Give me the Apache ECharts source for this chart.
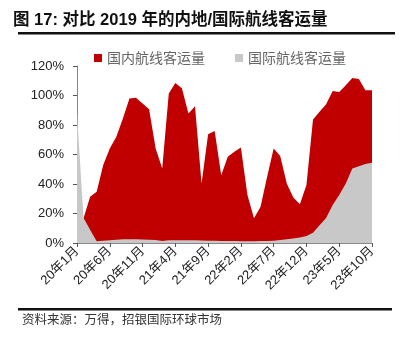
<!DOCTYPE html>
<html><head><meta charset="utf-8">
<script src="https://cdn.jsdelivr.net/npm/echarts@6/dist/echarts.min.js"></script>
<style>html,body{margin:0;padding:0;background:#fff}#c{width:409px;height:339px}</style>
</head><body><div id="c"></div>
<script>
const months = [];
for (let y = 20; y <= 23; y++) { for (let m = 1; m <= 12; m++) { if (y === 23 && m > 10) break; months.push(y + '年' + m + '月'); } }
const domestic = [null,16.7,31.3,34.7,52.8,64,72,84.4,98,98.4,94.6,90.7,
  64,50.5,101.3,108.5,105,87.8,92.7,40.4,73.8,76,46,58.4,
  61.8,64.7,32.5,16.7,24.6,44.9,64,58.9,40.4,30.9,26.2,39.3,
  83.7,88.9,94,103,102.4,106.9,111.9,111.2,103.6,103.6];
const international = [88,17,9,1.2,1.5,1.8,2.2,2.5,2.6,2.6,2.4,2.2,
  2,1.3,1.8,1.9,1.9,1.8,1.8,1.7,1.6,1.5,1.4,1.3,
  1.3,1.2,1.2,1.2,1.3,1.4,1.6,2,2.6,3.1,3.8,4.7,
  7,12,17,25.7,32.5,40.4,50.5,52.1,53.5,54.4];
const seriesNames = ['国内航线客运量','国际航线客运量'];
const titleText = '图 17: 对比 2019 年的内地/国际航线客运量';
const sourceText = '资料来源：万得，招银国际环球市场';

const chart = echarts.init(document.getElementById('c'));
chart.setOption({
  animation: false,
  title: { text: titleText, left: 8, top: 7, textStyle: { fontSize: 16.5, fontWeight: 'bold', color: '#111', fontFamily: 'Liberation Sans, Noto Sans CJK SC' } },
  graphic: [
    { type: 'rect', shape: { x: 18, y: 32, width: 377, height: 2.5 }, style: { fill: '#111' } },
    { type: 'rect', shape: { x: 18, y: 308, width: 374, height: 2.5 }, style: { fill: '#111' } },
    { type: 'text', left: 22, top: 313, style: { text: sourceText, fontSize: 12.5, fill: '#333', fontFamily: 'Noto Sans CJK SC' } }
  ],
  legend: {
    data: seriesNames, left: 89, top: 46, itemGap: 30, itemWidth: 8, itemHeight: 8, icon: 'rect',
    textStyle: { fontSize: 14, color: '#666', fontFamily: 'Noto Sans CJK SC' }
  },
  grid: { left: 77, right: 37, top: 66, bottom: 96, containLabel: false },
  xAxis: {
    type: 'category', data: months, boundaryGap: false,
    axisLine: { lineStyle: { color: '#888', width: 1 } },
    axisTick: { interval: 4, length: 4, lineStyle: { color: '#555' } },
    axisLabel: { interval: 4, rotate: 45, fontSize: 13, color: '#222', margin: 6, fontFamily: 'Liberation Sans, Noto Sans CJK SC' }
  },
  yAxis: {
    type: 'value', min: 0, max: 120, interval: 20,
    axisLine: { show: true, lineStyle: { color: '#888' } },
    axisTick: { show: true, length: 4, lineStyle: { color: '#555' } },
    splitLine: { show: false },
    axisLabel: { formatter: '{value}%', fontSize: 13, color: '#222', margin: 13, fontFamily: 'Liberation Sans' }
  },
  series: [
    { name: seriesNames[0], type: 'line', data: domestic, symbol: 'none', lineStyle: { width: 0 }, itemStyle: { color: '#C00000' }, areaStyle: { color: '#C00000', opacity: 1 } },
    { name: seriesNames[1], type: 'line', data: international, symbol: 'none', lineStyle: { width: 0 }, itemStyle: { color: '#C8C8C8' }, areaStyle: { color: '#C8C8C8', opacity: 1 } }
  ]
});
</script></body></html>
